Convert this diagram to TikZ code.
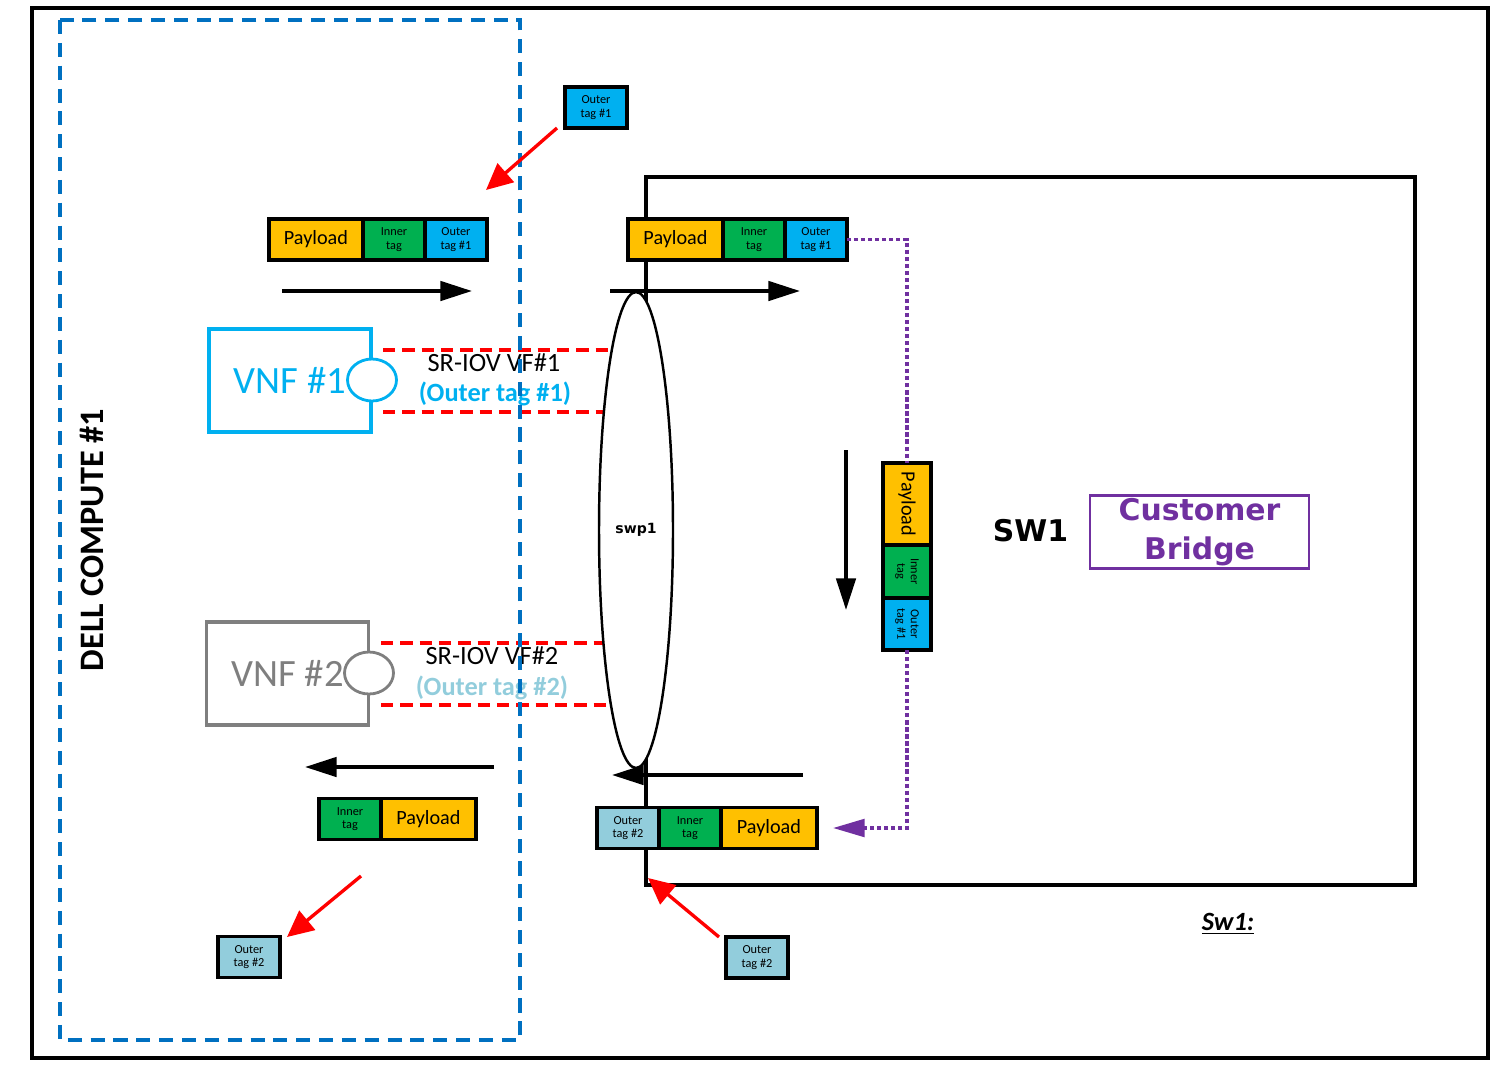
\documentclass[tikz,border=0pt]{standalone}
\usepackage{fontspec}
\setmainfont{Carlito}
\newfontfamily\dejavu{DejaVu Sans}
\usetikzlibrary{arrows.meta,positioning,shapes.geometric}
\definecolor{pay}{HTML}{FFC000}
\definecolor{inn}{HTML}{00B050}
\definecolor{out1}{HTML}{00B0F0}
\definecolor{out2}{HTML}{92CDDC}
\definecolor{vnfgray}{HTML}{7F7F7F}
\definecolor{hostblue}{HTML}{0070C0}
\definecolor{cbpurple}{HTML}{7030A0}
\tikzset{cell/.style={draw,line width=1.8pt,inner sep=0pt,outer sep=0pt,minimum height=.82cm,align=center},
         paycell/.style={cell,fill=pay,font=\fontsize{11.5}{12}\selectfont},
         incell/.style={cell,fill=inn,minimum width=1.24cm,font=\fontsize{7}{7.6}\selectfont},
         outcell/.style={cell,minimum width=1.24cm,font=\fontsize{7}{7.6}\selectfont},
         flow/.style={-{Triangle[length=18pt,width=11pt]},line width=2.1pt},
         pull/.style={-{Triangle[length=15pt,width=14pt]},line width=1.9pt,red},
         vf/.style={red,line width=1.8pt,dash pattern=on 7pt off 4pt},
         pdot/.style={cbpurple,line width=2pt,dash pattern=on 2.4pt off 1.6pt},
         port/.style={ellipse,fill=white,line width=1.6pt,minimum width=.98cm,minimum height=.84cm},
         vnf/.style={line width=1.8pt,minimum width=3.24cm,minimum height=2.06cm,font=\fontsize{22}{24}\selectfont}}

\begin{document}
\begin{tikzpicture}[x=0.02cm,y=-0.02cm]
  \useasboundingbox (0,0) rectangle (1508,1089);
  \draw[line width=2.5pt] (32,8) rectangle (1488,1058);
  \node[draw,line width=2pt,minimum width=15.38cm,minimum height=14.16cm,
    font=\dejavu\bfseries\fontsize{17}{18}\selectfont] (sw1) at (1030.5,531) {SW1};
  \node[draw=cbpurple,line width=1.5pt,minimum width=4.38cm,minimum height=1.46cm,inner sep=0pt,
    align=center,text=cbpurple,font=\dejavu\bfseries\fontsize{17}{22.5}\selectfont] (cb) at (1199.5,532) {Customer\\Bridge};
  \node[font=\bfseries\itshape\fontsize{15}{17}\selectfont] (swlbl) at (1228,924) {\underline{Sw1:}};
  \draw[vf] (383,350) -- (636,350) (383,412) -- (636,412);
  \draw[vf] (381,643) -- (636,643) (381,705) -- (636,705);
  \node[draw,ellipse,fill=white,line width=1.4pt,inner sep=0pt,minimum width=1.48cm,minimum height=9.52cm,
    font=\dejavu\bfseries\fontsize{8}{9}\selectfont] (swp) at (636,530) {swp1};
  \draw[flow] (282,291) -- (472,291);
  \draw[flow] (610,291) -- (800,291);
  \draw[flow] (846,450) -- (846,610);
  \draw[flow] (803,775) -- (612,775);
  \draw[flow] (494,767) -- (305,767);
  \node[paycell,minimum width=1.88cm,anchor=west] (p1pay) at (269,239.5) {Payload};
  \node[incell,right=0pt of p1pay] (p1in) {Inner\\tag};
  \node[outcell,fill=out1,right=0pt of p1in] (p1out) {Outer\\tag \#1};
  \node[paycell,minimum width=1.9cm,anchor=west] (p2pay) at (628,239.5) {Payload};
  \node[incell,right=0pt of p2pay] (p2in) {Inner\\tag};
  \node[outcell,fill=out1,right=0pt of p2in] (p2out) {Outer\\tag \#1};
  \node[paycell,rotate=-90,minimum width=1.64cm,minimum height=.96cm] (vpay) at (907,504) {Payload};
  \node[incell,rotate=-90,minimum width=1.06cm,minimum height=.96cm] (vin) at (907,571.5) {Inner\\tag};
  \node[outcell,fill=out1,rotate=-90,minimum width=1.04cm,minimum height=.96cm] (vout) at (907,624) {Outer\\tag \#1};
  \node[outcell,fill=out2,anchor=west] (p3out) at (597,828) {Outer\\tag \#2};
  \node[incell,right=0pt of p3out] (p3in) {Inner\\tag};
  \node[paycell,minimum width=1.92cm,right=0pt of p3in] (p3pay) {Payload};
  \node[incell,anchor=west] (p4in) at (319,819) {Inner\\tag};
  \node[paycell,minimum width=1.9cm,right=0pt of p4in] (p4pay) {Payload};
  \node[outcell,fill=out1] (tag1) at (596,107.5) {Outer\\tag \#1};
  \node[outcell,fill=out2] (tag2) at (757,957.5) {Outer\\tag \#2};
  \node[outcell,fill=out2] (tag3) at (249,957) {Outer\\tag \#2};
  \node[vnf,draw=out1,text=out1] (vnf1) at (290,380.5) {VNF \#1};
  \node[port,draw=out1] (port1) at (372,380) {};
  \node[vnf,draw=vnfgray,text=vnfgray] (vnf2) at (287.5,673.5) {VNF \#2};
  \node[port,draw=vnfgray] (port2) at (369,673) {};
  \node[font=\fontsize{15}{17}\selectfont] (vf1) at (494,363) {SR-IOV VF\#1};
  \node[font=\bfseries\fontsize{15}{17}\selectfont,text=out1] (vf1tag) at (495,394) {(Outer tag \#1)};
  \node[font=\fontsize{15}{17}\selectfont] (vf2) at (492,656) {SR-IOV VF\#2};
  \node[font=\bfseries\fontsize{15}{17}\selectfont,text=out2] (vf2tag) at (492,688) {(Outer tag \#2)};
  \node[rotate=90,font=\bfseries\fontsize{19.5}{22}\selectfont] (host) at (92,540) {DELL COMPUTE \#1};
  \draw[hostblue,line width=2.1pt,dash pattern=on 8pt off 5pt] (60,20) rectangle (520,1040);
  \coordinate (r1) at (486,190);
  \coordinate (r2) at (648,878);
  \coordinate (r3) at (361,876);
  \draw[pull] (557,128) -- (r1);
  \draw[pull] (719,937) -- (r2);
  \draw[pull] (r3) -- (287,937);
  \draw[pdot] (p2out.east) -| (vpay.west);
  \draw[pdot,-{Triangle[length=18pt,width=10pt]}] (vout.east) |- ([xshift=.32cm]p3pay.east);
\end{tikzpicture}
\end{document}
